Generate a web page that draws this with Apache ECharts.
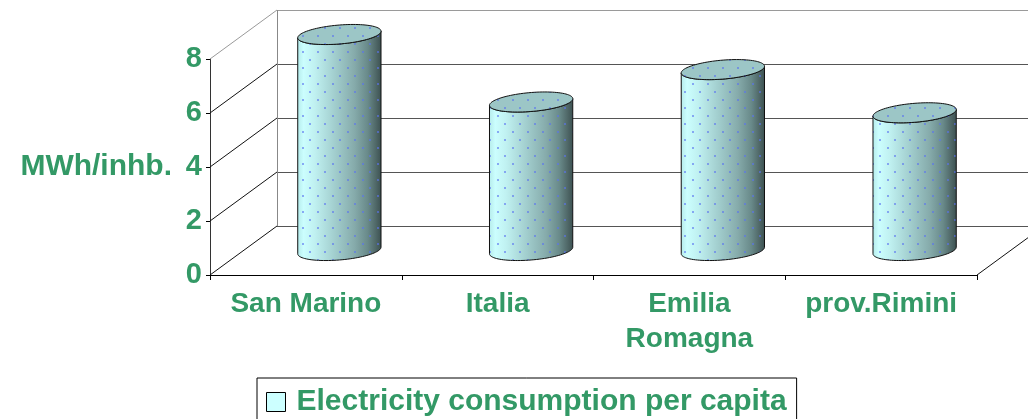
<!DOCTYPE html>
<html>
<head>
<meta charset="utf-8">
<script src="https://cdn.jsdelivr.net/npm/echarts@6/dist/echarts.min.js"></script>
<style>
  html, body { margin: 0; padding: 0; background: #fff; }
  #chart { width: 1028px; height: 419px; }
</style>
</head>
<body>
<div id="chart"></div>
<script>
// Electricity consumption per capita (MWh per inhabitant)
const categories = ['San Marino', 'Italia', 'Emilia\nRomagna', 'prov.Rimini'];
const consumption = [8.0, 5.5, 6.7, 5.1];
const yTicks = [0, 2, 4, 6, 8];
const seriesName = 'Electricity consumption per capita';
const axisName = 'MWh/inhb.';

const GREEN = '#339966';
const FONT = '"Liberation Sans", Arial, Helvetica, sans-serif';
// oblique depth of the 3D plot box, in pixels
const DEPTH_X = 67;
const DEPTH_Y = 49;
// cylinder radius as a share of the category width / box depth
const RADIUS_FRAC = 0.205;

// small dotted fill laid over the cylinders
function makeDotPattern() {
  const c = document.createElement('canvas');
  c.width = 15; c.height = 16;
  const g = c.getContext('2d');
  g.fillStyle = 'rgba(90,115,240,0.6)';
  g.fillRect(2, 3, 2, 2);
  g.fillRect(9, 11, 2, 2);
  return { image: c, repeat: 'repeat' };
}
const dots = makeDotPattern();

function px(v) { return Math.round(v) + 0.5; }

// walls and floor of the 3D box, laid out from the grid's own scales
function renderFrame(params, api) {
  const cs = params.coordSys;
  const x0 = cs.x, x1 = cs.x + cs.width;
  const children = [];
  const yOf = v => api.coord([0, v])[1];
  const top = yTicks[yTicks.length - 1];
  yTicks.forEach(v => {
    const y = yOf(v);
    // gridline on the back wall
    children.push({
      type: 'line',
      shape: { x1: x0 + DEPTH_X, y1: px(y - DEPTH_Y), x2: x1 + DEPTH_X, y2: px(y - DEPTH_Y) },
      style: { stroke: v === top ? '#9a9a9a' : '#555', lineWidth: 1 }
    });
    // gridline on the side wall
    children.push({
      type: 'line',
      shape: { x1: x0, y1: y, x2: x0 + DEPTH_X, y2: y - DEPTH_Y },
      style: { stroke: v === top ? '#9a9a9a' : '#111', lineWidth: 1 }
    });
  });
  // back wall left edge
  children.push({
    type: 'line',
    shape: { x1: px(x0 + DEPTH_X), y1: yOf(0) - DEPTH_Y, x2: px(x0 + DEPTH_X), y2: yOf(top) - DEPTH_Y },
    style: { stroke: '#888', lineWidth: 1 }
  });
  // floor right edge
  children.push({
    type: 'line',
    shape: { x1: x1, y1: yOf(0), x2: x1 + DEPTH_X, y2: yOf(0) - DEPTH_Y },
    style: { stroke: '#111', lineWidth: 1 }
  });
  return { type: 'group', children };
}

function ellipsePts(cx, cy, rx, kx, ky, t1, t2, n) {
  const pts = [];
  for (let i = 0; i <= n; i++) {
    const t = t1 + (t2 - t1) * i / n;
    pts.push([cx + rx * Math.cos(t) + kx * Math.sin(t), cy - ky * Math.sin(t)]);
  }
  return pts;
}

// one cylinder per category, standing in the middle of the box depth
function renderCylinder(params, api) {
  const idx = api.value(0);
  const val = api.value(1);
  const base = api.coord([idx, 0]);
  const peak = api.coord([idx, val]);
  const bw = api.size([1, 0])[0];
  const cx = base[0] + DEPTH_X / 2;
  const cyB = base[1] - DEPTH_Y / 2;
  const cyT = peak[1] - DEPTH_Y / 2;
  const rx = bw * RADIUS_FRAC;
  const kx = DEPTH_X * RADIUS_FRAC;
  const ky = DEPTH_Y * RADIUS_FRAC;
  const t0 = Math.atan2(kx, rx);
  const half = Math.sqrt(rx * rx + kx * kx);
  const n = 48;

  const body = ellipsePts(cx, cyB, rx, kx, ky, t0 + Math.PI, t0 + 2 * Math.PI, n)
    .concat(ellipsePts(cx, cyT, rx, kx, ky, t0 + 2 * Math.PI, t0 + Math.PI, n));
  const cap = ellipsePts(cx, cyT, rx, kx, ky, 0, 2 * Math.PI, 2 * n);

  const sideFill = {
    type: 'linear', global: true,
    x: cx - half, y: 0, x2: cx + half, y2: 0,
    colorStops: [
      { offset: 0, color: '#b6ecec' },
      { offset: 0.07, color: '#cbfefe' },
      { offset: 0.2, color: '#c0f1f1' },
      { offset: 0.45, color: '#a1cdcd' },
      { offset: 0.68, color: '#86abab' },
      { offset: 0.84, color: '#698a8a' },
      { offset: 0.94, color: '#4f6767' },
      { offset: 1, color: '#3d5252' }
    ]
  };

  return {
    type: 'group',
    children: [
      { type: 'polygon', shape: { points: body }, style: { fill: sideFill, stroke: null } },
      { type: 'polygon', shape: { points: body }, style: { fill: dots, stroke: '#111', lineWidth: 1 } },
      { type: 'polygon', shape: { points: cap }, style: { fill: '#9cc6c6', stroke: null } },
      { type: 'polygon', shape: { points: cap }, style: { fill: dots, stroke: '#111', lineWidth: 1 } }
    ]
  };
}

const chart = echarts.init(document.getElementById('chart'), null, { renderer: 'canvas' });

chart.setOption({
  animation: false,
  backgroundColor: '#fff',
  grid: {
    left: 210, right: 51, top: 59, bottom: 144,
    containLabel: false,
    outerBoundsMode: 'none'
  },
  legend: {
    left: 257, top: 378,
    orient: 'horizontal',
    padding: [9, 10, 14, 9],
    borderColor: '#000', borderWidth: 1,
    backgroundColor: '#fff',
    itemWidth: 19, itemHeight: 19,
    selectedMode: false,
    textStyle: {
      color: GREEN, fontFamily: FONT, fontWeight: 'bold', fontSize: 30,
      padding: [0, 0, 0, 6]
    },
    data: [{
      name: seriesName, icon: 'rect',
      itemStyle: { color: '#ccffff', borderColor: '#000', borderWidth: 1 }
    }]
  },
  xAxis: {
    type: 'category',
    data: categories,
    boundaryGap: true,
    axisLine: { show: true, lineStyle: { color: '#000', width: 1 } },
    axisTick: { show: true, length: 5, alignWithLabel: false, lineStyle: { color: '#000' } },
    axisLabel: {
      interval: 0, margin: 12,
      color: GREEN, fontFamily: FONT, fontWeight: 'bold', fontSize: 28, lineHeight: 35,
      align: 'center'
    },
    splitLine: { show: false }
  },
  yAxis: {
    type: 'value',
    min: 0, max: 8, interval: 2,
    name: axisName,
    nameLocation: 'middle',
    nameRotate: 0,
    nameGap: 38,
    nameTextStyle: { color: GREEN, fontFamily: FONT, fontWeight: 'bold', fontSize: 30 },
    axisLine: { show: true, lineStyle: { color: '#333', width: 1 } },
    axisTick: { show: true, length: 4, lineStyle: { color: '#000' } },
    axisLabel: { margin: 8, color: GREEN, fontFamily: FONT, fontWeight: 'bold', fontSize: 29 },
    splitLine: { show: false }
  },
  series: [
    {
      name: 'frame',
      type: 'custom',
      silent: true,
      clip: false,
      z: 1,
      renderItem: renderFrame,
      data: [[0, 0]]
    },
    {
      name: seriesName,
      type: 'custom',
      clip: false,
      z: 3,
      renderItem: renderCylinder,
      encode: { x: 0, y: 1 },
      data: consumption.map((v, i) => [i, v])
    }
  ]
});
</script>
</body>
</html>
